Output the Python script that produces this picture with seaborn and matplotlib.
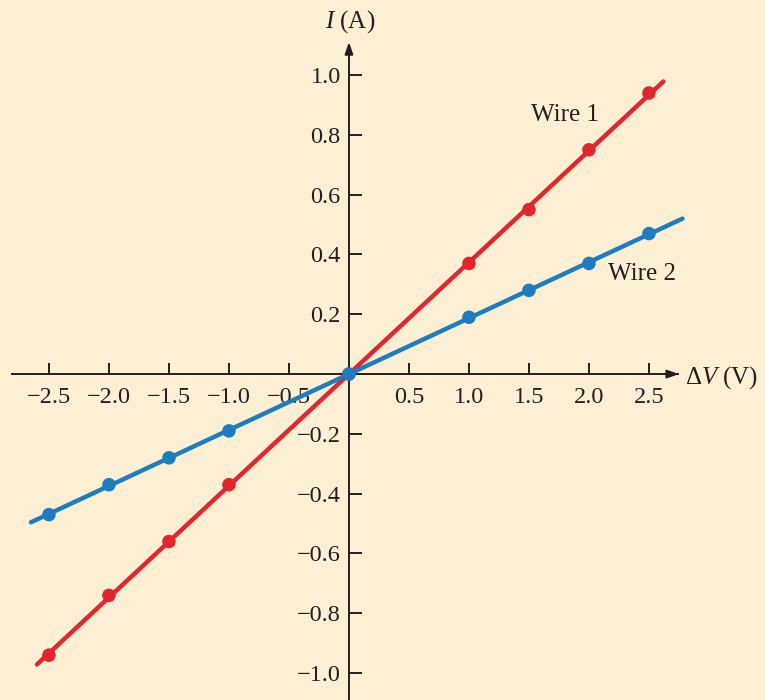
import numpy as np
import pandas as pd
import matplotlib
matplotlib.use("Agg")
import matplotlib.pyplot as plt
import seaborn as sns

# Measured current vs. potential difference for two wires
voltage = [-2.5, -2.0, -1.5, -1.0, 0.0, 1.0, 1.5, 2.0, 2.5]
current_wire1 = [-0.94, -0.74, -0.56, -0.37, 0.0, 0.37, 0.55, 0.75, 0.94]
current_wire2 = [-0.47, -0.37, -0.28, -0.19, 0.0, 0.19, 0.28, 0.37, 0.47]

# Range over which each best-fit line is drawn
fit_range_wire1 = [-2.6, 2.62]
fit_range_wire2 = [-2.65, 2.78]

x_ticks = [-2.5, -2.0, -1.5, -1.0, -0.5, 0.5, 1.0, 1.5, 2.0, 2.5]
y_ticks = [-1.0, -0.8, -0.6, -0.4, -0.2, 0.2, 0.4, 0.6, 0.8, 1.0]

bg = "#fcefd3"
red = "#e1262d"
blue = "#1e7cc0"
ink = "#231f20"

sns.set_style("white")
plt.rcParams["font.family"] = ["Liberation Serif", "DejaVu Serif"]
plt.rcParams["mathtext.fontset"] = "custom"
plt.rcParams["mathtext.rm"] = "Liberation Serif"
plt.rcParams["mathtext.it"] = "Liberation Serif:italic"

df = pd.DataFrame({
    "V": voltage * 2,
    "I": current_wire1 + current_wire2,
    "wire": ["Wire 1"] * len(voltage) + ["Wire 2"] * len(voltage),
})

fig = plt.figure(figsize=(7.65, 7.0), dpi=100, facecolor=bg)
ax = fig.add_axes([0, 0, 1, 1])
ax.set_facecolor(bg)
ax.set_xlim(-2.908, 3.467)
ax.set_ylim(-1.090, 1.251)

# Best-fit straight lines through each data set
fits = []
for cur, rng, name in [(current_wire1, fit_range_wire1, "Wire 1"),
                       (current_wire2, fit_range_wire2, "Wire 2")]:
    slope, icpt = np.polyfit(voltage, cur, 1)
    xs = np.array(rng)
    fits.append(pd.DataFrame({"V": xs, "I": slope * xs + icpt, "wire": name}))
fit_df = pd.concat(fits)

palette = {"Wire 1": red, "Wire 2": blue}
sns.lineplot(data=fit_df, x="V", y="I", hue="wire", palette=palette,
             linewidth=3.2, legend=False, ax=ax, zorder=3)
sns.scatterplot(data=df, x="V", y="I", hue="wire", palette=palette,
                s=95, edgecolor="none", legend=False, ax=ax, zorder=4)

# Axes through the origin
for side in ["top", "right"]:
    ax.spines[side].set_visible(False)
ax.spines["left"].set_position(("data", 0))
ax.spines["bottom"].set_position(("data", 0))
ax.spines["left"].set_bounds(-1.2, 1.09)
ax.spines["bottom"].set_bounds(-2.81, 2.74)
for side in ["left", "bottom"]:
    ax.spines[side].set_color(ink)
    ax.spines[side].set_linewidth(1.4)
    ax.spines[side].set_zorder(2)

ax.annotate("", xy=(2.75, 0), xytext=(2.66, 0),
            arrowprops=dict(arrowstyle="-|>,head_length=0.7,head_width=0.25",
                            color=ink, lw=1.4, shrinkA=0, shrinkB=0))
ax.annotate("", xy=(0, 1.110), xytext=(0, 1.06),
            arrowprops=dict(arrowstyle="-|>,head_length=0.7,head_width=0.25",
                            color=ink, lw=1.4, shrinkA=0, shrinkB=0))

ax.set_xticks(x_ticks)
ax.set_xticklabels([f"{t:.1f}".replace("-", "\u2212") for t in x_ticks])
ax.set_yticks(y_ticks)
ax.set_yticklabels([f"{t:.1f}".replace("-", "\u2212") for t in y_ticks])
ax.tick_params(axis="x", direction="in", length=8, width=1.4, color=ink,
               labelsize=17.5, labelcolor=ink, pad=9, bottom=True)
ax.tick_params(axis="y", direction="in", length=9, width=1.4, color=ink,
               labelsize=17.5, labelcolor=ink, pad=6, left=True)
ax.set_xlabel("")
ax.set_ylabel("")

ax.text(2.80, -0.012, "\u0394$V$ (V)", fontsize=18, color=ink,
        ha="left", va="center")
ax.text(0.01, 1.18, "$I$ (A)", fontsize=18, color=ink,
        ha="center", va="center")
ax.text(1.80, 0.865, "Wire 1", fontsize=18, color=ink, ha="center", va="center")
ax.text(2.44, 0.335, "Wire 2", fontsize=18, color=ink, ha="center", va="center")

fig.savefig("out.png", dpi=100, facecolor=bg)
